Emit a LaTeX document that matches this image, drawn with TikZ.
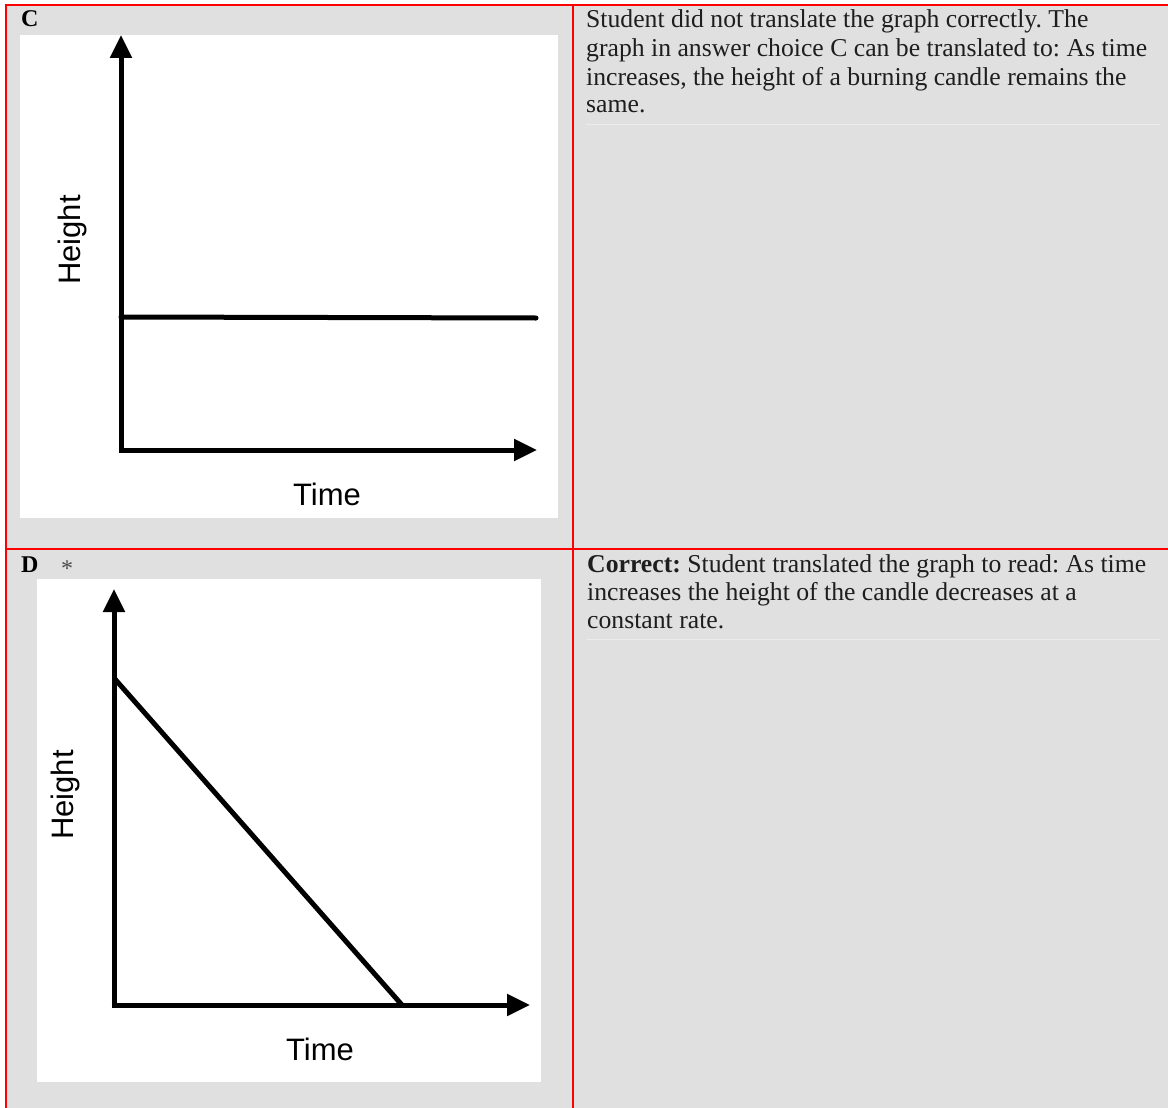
\documentclass[tikz,border=0pt]{standalone}
\usepackage{fontspec}
\setmainfont{Liberation Serif}
\newfontfamily\axisfont{Liberation Sans}
\usetikzlibrary{arrows.meta,calc}
\definecolor{cellgray}{RGB}{224,224,224}
\definecolor{txtgray}{RGB}{30,30,30}
\definecolor{rulegray}{RGB}{236,236,236}
\frenchspacing
\begin{document}
\begin{tikzpicture}[x=1pt,y=-1pt,
  border/.style={draw=red,line width=2pt},
  plotbg/.style={fill=white,draw=none},
  axis/.style={line width=5pt,-{Triangle[length=23pt,width=21pt]}},
  curve/.style={line width=5pt,line cap=round},
  axlabel/.style={font=\axisfont\fontsize{31}{31}\selectfont,inner sep=0},
  body/.style={anchor=base west,inner sep=0,text=txtgray,font=\fontsize{25.7}{28}\selectfont},
  letter/.style={anchor=base west,inner sep=0,font=\bfseries\fontsize{24}{24}\selectfont},
  faintrule/.style={draw=rulegray,line width=1pt}]
\useasboundingbox (0,0) rectangle (1168,1108);
\fill[white] (0,0) rectangle (1168,1108);
\fill[cellgray] (6,5) rectangle (1168,1108);
% borders
\draw[border] (6,1108) -- (6,5) -- (1168,5);
\draw[border] (573,5) -- (573,1108);
\draw[border] (6,549) -- (1168,549);
% ---------- C ----------
\node[letter] (lc) at (21,27) {C};
\fill[plotbg] (20,35) rectangle (558,518);
\coordinate (co) at (121,450);
\coordinate (cy) at (121,35);
\coordinate (cx) at (537,450);
\coordinate (ca) at (121,317);
\coordinate (cb) at (536,318);
\draw[axis] (co) -- (cy);
\draw[axis] ($(co)+(-2.5,0)$) -- (cx);
\draw[curve] (ca) -- (cb);
\node[axlabel,rotate=90] (hc) at (72,240) {Height};
\node[axlabel] (tc) at (327,494) {Time};
\node[body] (c1) at (586,28) {Student did not translate the graph correctly. The};
\node[body] (c2) at (586,57) {graph in answer choice C can be translated to: As time};
\node[body] (c3) at (586,85) {increases, the height of a burning candle remains the};
\node[body] (c4) at (586,113) {same.};
\draw[faintrule] (586,124) -- (1160,124);
% ---------- D ----------
\node[letter] (ld) at (21,572) {D};
\node[anchor=base west,inner sep=0,text=black!70,font=\fontsize{24}{24}\selectfont] (star) at (61,576) {*};
\fill[plotbg] (37,579) rectangle (541,1082);
\coordinate (do) at (114,1005);
\coordinate (dy) at (114,589);
\coordinate (dx) at (530,1005);
\coordinate (da) at (114,678);
\coordinate (db) at (402,1005);
\draw[axis] (do) -- (dy);
\draw[axis] ($(do)+(-2.5,0)$) -- (dx);
\draw[line width=5pt] (da) -- (db);
\node[axlabel,rotate=90] (hd) at (65,795) {Height};
\node[axlabel] (td) at (320,1049) {Time};
\node[body] (d1) at (587,572) {\textbf{Correct:} Student translated the graph to read: As time};
\node[body] (d2) at (587,600) {increases the height of the candle decreases at a};
\node[body] (d3) at (587,628) {constant rate.};
\draw[faintrule] (587,639) -- (1160,639);
\end{tikzpicture}
\end{document}
